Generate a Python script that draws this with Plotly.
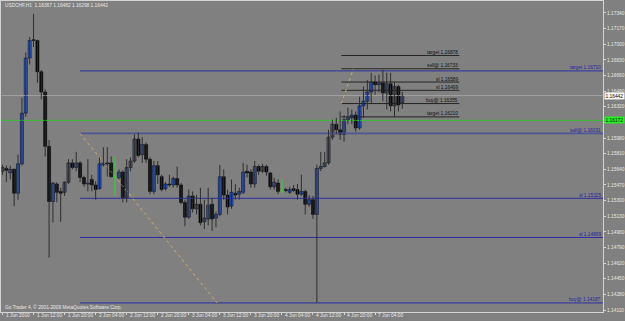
import plotly.graph_objects as go

# ---------------- data ----------------
title_text = "USDCHF,H1  1.16367 1.16482 1.16298 1.16442"
footer_text = "Go Trader 4, \u00a9 2001-2009 MetaQuotes Software Corp."

opens = [1.1562, 1.1565, 1.1560, 1.1564, 1.1538, 1.1570, 1.1625, 1.1685, 1.1705, 1.1704,
         1.1670, 1.1648, 1.1589, 1.1529, 1.1548, 1.1540, 1.1539, 1.1550, 1.1571, 1.1566,
         1.1571, 1.1555, 1.1548, 1.1553, 1.1547, 1.1543, 1.1569, 1.1571, 1.1571, 1.1556,
         1.1555, 1.1561, 1.1533, 1.1566, 1.1573, 1.1597, 1.1580, 1.1591, 1.1575, 1.1540,
         1.1568, 1.1556, 1.1543, 1.1548, 1.1547, 1.1554, 1.1547, 1.1528, 1.1512, 1.1535,
         1.1521, 1.1526, 1.1507, 1.1510, 1.1526, 1.1511, 1.1515, 1.1556, 1.1536, 1.1524,
         1.1538, 1.1537, 1.1539, 1.1562, 1.1561, 1.1548, 1.1567, 1.1562, 1.1567, 1.1560,
         1.1545, 1.1549, 1.1541, 1.1542, 1.1539, 1.1543, 1.1542, 1.1537, 1.1540, 1.1526,
         1.1531, 1.1515, 1.1565, 1.1567, 1.1571, 1.1599, 1.1613, 1.1607, 1.1602, 1.1618,
         1.1620, 1.1623, 1.1609, 1.1633, 1.1638, 1.1648, 1.1659, 1.1656, 1.1658, 1.1647,
         1.1657, 1.1633, 1.1654, 1.16367]
highs = [1.1569, 1.1568, 1.1568, 1.1565, 1.1580, 1.1642, 1.1691, 1.1708, 1.1733, 1.1705,
         1.1672, 1.1651, 1.1596, 1.1550, 1.1550, 1.1544, 1.1551, 1.1575, 1.1575, 1.1583,
         1.1573, 1.1557, 1.1575, 1.1558, 1.1551, 1.1577, 1.1588, 1.1588, 1.1578, 1.1578,
         1.1564, 1.1563, 1.1575, 1.1577, 1.1602, 1.1604, 1.1599, 1.1593, 1.1577, 1.1573,
         1.1573, 1.1558, 1.1550, 1.1558, 1.1556, 1.1567, 1.1549, 1.1531, 1.1542, 1.1540,
         1.1536, 1.1544, 1.1531, 1.1544, 1.1533, 1.1518, 1.1569, 1.1564, 1.1542, 1.1553,
         1.1548, 1.1544, 1.1571, 1.1569, 1.1564, 1.1573, 1.1569, 1.1570, 1.1569, 1.1561,
         1.1555, 1.1553, 1.1553, 1.1544, 1.1545, 1.1547, 1.1548, 1.1558, 1.1542, 1.1536,
         1.1535, 1.1569, 1.1583, 1.1583, 1.1607, 1.1618, 1.1620, 1.1627, 1.1623, 1.1631,
         1.1629, 1.1627, 1.1643, 1.1654, 1.1661, 1.1669, 1.1666, 1.1667, 1.1672, 1.1669,
         1.1669, 1.1659, 1.1656, 1.16482]
lows = [1.1558, 1.1550, 1.1553, 1.1524, 1.1531, 1.1568, 1.1621, 1.1678, 1.1697, 1.1658,
        1.1640, 1.1578, 1.1468, 1.1506, 1.1528, 1.1507, 1.1535, 1.1548, 1.1564, 1.1562,
        1.1550, 1.1545, 1.1540, 1.1540, 1.1531, 1.1542, 1.1567, 1.1556, 1.1555, 1.1535,
        1.1553, 1.1528, 1.1528, 1.1562, 1.1571, 1.1577, 1.1571, 1.1571, 1.1537, 1.1537,
        1.1548, 1.1540, 1.1541, 1.1545, 1.1544, 1.1544, 1.1526, 1.1502, 1.1510, 1.1517,
        1.1515, 1.1503, 1.1499, 1.1503, 1.1497, 1.1501, 1.1513, 1.1531, 1.1515, 1.1521,
        1.1531, 1.1531, 1.1537, 1.1555, 1.1544, 1.1544, 1.1558, 1.1560, 1.1557, 1.1542,
        1.1542, 1.1537, 1.1538, 1.1539, 1.1537, 1.1539, 1.1531, 1.1535, 1.1515, 1.1523,
        1.1510, 1.1419, 1.1562, 1.1566, 1.1569, 1.1596, 1.1602, 1.1596, 1.1594, 1.1613,
        1.1613, 1.1605, 1.1607, 1.1620, 1.1629, 1.1636, 1.1645, 1.1648, 1.1638, 1.1629,
        1.1627, 1.1621, 1.1627, 1.16298]
closes = [1.1566, 1.1563, 1.1564, 1.1538, 1.1570, 1.1625, 1.1685, 1.1704, 1.1704, 1.1670,
          1.1648, 1.1589, 1.1529, 1.1549, 1.1539, 1.1538, 1.1550, 1.1571, 1.1566, 1.1571,
          1.1555, 1.1548, 1.1549, 1.1547, 1.1542, 1.1570, 1.1571, 1.1570, 1.1556, 1.1556,
          1.1561, 1.1533, 1.1566, 1.1573, 1.1597, 1.1579, 1.1591, 1.1575, 1.1540, 1.1568,
          1.1558, 1.1542, 1.1548, 1.1547, 1.1554, 1.1547, 1.1528, 1.1512, 1.1535, 1.1521,
          1.1526, 1.1506, 1.1511, 1.1525, 1.1510, 1.1515, 1.1556, 1.1536, 1.1523, 1.1539,
          1.1536, 1.1540, 1.1561, 1.1560, 1.1548, 1.1567, 1.1562, 1.1567, 1.1561, 1.1545,
          1.1550, 1.1540, 1.1541, 1.1541, 1.1542, 1.1541, 1.1537, 1.1540, 1.1526, 1.1531,
          1.1515, 1.1565, 1.1567, 1.1571, 1.1599, 1.1613, 1.1607, 1.1602, 1.1618, 1.1620,
          1.1623, 1.1609, 1.1633, 1.1638, 1.1648, 1.1659, 1.1656, 1.1658, 1.1647, 1.1657,
          1.1633, 1.1654, 1.1634, 1.16442]

date_tick_bars = [0, 8, 16, 24, 32, 40, 48, 56, 64, 72, 80, 88, 96]
date_labels = ["1 Jun 2010", "1 Jun 12:00", "1 Jun 20:00", "2 Jun 04:00", "2 Jun 12:00",
               "2 Jun 20:00", "3 Jun 04:00", "3 Jun 12:00", "3 Jun 20:00", "4 Jun 04:00",
               "4 Jun 12:00", "4 Jun 20:00", "7 Jun 04:00"]

price_ticks = [1.17340, 1.17170, 1.17000, 1.16830, 1.16660, 1.16490, 1.16320, 1.16150,
               1.15980, 1.15810, 1.15640, 1.15470, 1.15300, 1.15130, 1.14960, 1.14790,
               1.14620, 1.14450, 1.14280, 1.14110]
# the 1.16150 label sits under the green price box in the reference, so it shows no text
hidden_tick_labels = [1.16150]

long_level_names = ["target", "sell@", "sl", "sl", "buy@"]
long_level_prices = [1.16710, 1.16031, 1.15325, 1.14899, 1.14187]
long_level_start_bar = 20

short_level_names = ["target", "sell@", "sl", "sl", "buy@", "target"]
short_level_prices = [1.16878, 1.16733, 1.16589, 1.16499, 1.16355, 1.16210]
short_level_bars = [87.3, 117.7]

bid_price = 1.16442
green_level_price = 1.16172

trend1_bars = [20, 55.3]
trend1_prices = [1.16031, 1.14187]
trend2_bars = [87.3, 90.4]
trend2_prices = [1.16355, 1.16733]

# ---------------- styling ----------------
W, H = 625, 321
BG = "#808080"
FONT = "Liberation Sans"
FS = 4.8
x_left_px, x_right_px = 1.5, 606
y_top_px, y_bot_px = 1, 312.5
x_range = [-0.256, 154.74]
y_range = [1.140937, 1.174701]


def ypap(py):
    return 1 - py / H


n = len(opens)
bull = [i for i in range(n) if closes[i] > opens[i]]
bear = [i for i in range(n) if closes[i] < opens[i]]
doji = [i for i in range(n) if closes[i] == opens[i]]

fig = go.Figure()

# horizontal level lines
fig.add_trace(go.Scatter(x=x_range, y=[bid_price, bid_price], mode="lines",
                         line=dict(color="#A4A4A4", width=0.9), hoverinfo="skip"))
fig.add_trace(go.Scatter(x=x_range, y=[green_level_price, green_level_price], mode="lines",
                         line=dict(color="#2CC82C", width=0.9), hoverinfo="skip"))
for name, p in zip(long_level_names, long_level_prices):
    w = 1.8 if name == "sell@" else 1
    col = "#4E5696" if name == "sell@" else "#2C2CA4"
    fig.add_trace(go.Scatter(x=[long_level_start_bar, x_range[1]], y=[p, p], mode="lines",
                             line=dict(color=col, width=w), hoverinfo="skip"))
for name, p in zip(short_level_names, short_level_prices):
    fig.add_trace(go.Scatter(x=short_level_bars, y=[p, p], mode="lines",
                             line=dict(color="#1A1A1A", width=0.9), hoverinfo="skip"))

# dotted trend lines
for bx, py in [(trend1_bars, trend1_prices), (trend2_bars, trend2_prices)]:
    fig.add_trace(go.Scatter(x=bx, y=py, mode="lines",
                             line=dict(color="#D2A864", width=1, dash="dot"), hoverinfo="skip"))


def wick(idx):
    xs, ys = [], []
    for i in idx:
        xs += [i, i, None]
        ys += [lows[i], highs[i], None]
    return xs, ys


wx, wy = wick(bull + bear)
fig.add_trace(go.Scatter(x=wx, y=wy, mode="lines", line=dict(color="#2E2E2E", width=1),
                         hoverinfo="skip"))
dx, dy = wick(doji)
fig.add_trace(go.Scatter(x=dx, y=dy, mode="lines", line=dict(color="#22E022", width=1),
                         hoverinfo="skip"))
hx, hy = [], []
for i in doji:
    hx += [i - 0.4, i + 0.4, None]
    hy += [opens[i], opens[i], None]
fig.add_trace(go.Scatter(x=hx, y=hy, mode="lines", line=dict(color="#22E022", width=1),
                         hoverinfo="skip"))

for idx, col in [(bull, "#2F60D2"), (bear, "#050505")]:
    fig.add_trace(go.Bar(
        x=idx,
        base=[min(opens[i], closes[i]) for i in idx],
        y=[max(abs(closes[i] - opens[i]), 0.00003) for i in idx],
        width=0.78,
        marker=dict(color=col, line=dict(color="#0A0A12", width=0.6)),
        hoverinfo="skip"))

ann = []
# title and footer
ann.append(dict(text=title_text, xref="paper", yref="paper", x=3 / W, y=ypap(5.5),
                xanchor="left", yanchor="middle", showarrow=False,
                font=dict(family=FONT, size=FS, color="#E8E8E8")))
ann.append(dict(text=footer_text, xref="paper", yref="paper", x=3 / W, y=ypap(308),
                xanchor="left", yanchor="middle", showarrow=False,
                font=dict(family=FONT, size=FS, color="#E8E8E8")))
# date labels
for b, lab in zip(date_tick_bars, date_labels):
    ann.append(dict(text=lab, xref="x", yref="paper", x=b, y=ypap(316.5),
                    xanchor="left", yanchor="middle", xshift=1.2, showarrow=False,
                    font=dict(family=FONT, size=FS, color="#E8E8E8")))
# level labels
for name, p in zip(long_level_names, long_level_prices):
    ann.append(dict(text=f"{name} {p:.5f}", xref="x domain", yref="y", x=1, y=p,
                    xanchor="right", yanchor="bottom", xshift=-1, yshift=-0.5,
                    showarrow=False, borderpad=0,
                    font=dict(family=FONT, size=FS, color="#2424A0")))
for name, p in zip(short_level_names, short_level_prices):
    ann.append(dict(text=f"{name} {p:.5f}", xref="x", yref="y", x=short_level_bars[1], y=p,
                    xanchor="right", yanchor="bottom", xshift=-0.5, yshift=-0.5,
                    showarrow=False, borderpad=0,
                    font=dict(family=FONT, size=FS, color="#101010")))
# price boxes on the right axis
for p, bg in [(bid_price, "#F4F4F4"), (green_level_price, "#22F022")]:
    ann.append(dict(text=f"{p:.5f}", xref="paper", yref="y", x=607 / W, y=p,
                    xanchor="left", yanchor="middle", showarrow=False, bgcolor=bg,
                    borderpad=0.6, font=dict(family=FONT, size=FS, color="#101010")))

fig.update_layout(
    width=W, height=H, margin=dict(l=0, r=0, t=0, b=0),
    paper_bgcolor=BG, plot_bgcolor=BG, showlegend=False, barmode="overlay",
    annotations=ann,
    xaxis=dict(domain=[x_left_px / W, x_right_px / W], range=x_range,
               showgrid=False, zeroline=False, showline=True, mirror=True,
               linecolor="#D4D4D4", linewidth=1,
               tickmode="array", tickvals=date_tick_bars, ticks="outside",
               ticklen=2, tickcolor="#D4D4D4", showticklabels=False, fixedrange=True),
    yaxis=dict(domain=[1 - y_bot_px / H, 1 - y_top_px / H], range=y_range, side="right",
               showgrid=False, zeroline=False, showline=True, mirror=True,
               linecolor="#D4D4D4", linewidth=1,
               tickmode="array", tickvals=price_ticks,
               ticktext=["" if v in hidden_tick_labels else f"{v:.5f}" for v in price_ticks],
               ticks="outside", ticklen=2, tickcolor="#D4D4D4",
               tickfont=dict(family=FONT, size=FS, color="#E8E8E8"), fixedrange=True),
)

fig.write_html("out.html")
